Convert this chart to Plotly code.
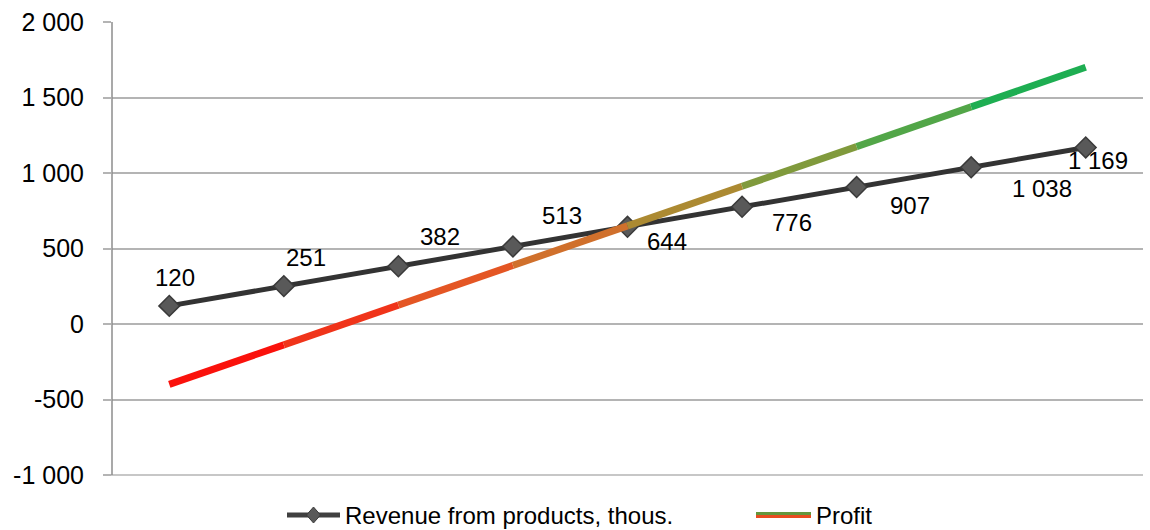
import plotly.graph_objects as go

# Periods (categories) along the horizontal axis
periods = [1, 2, 3, 4, 5, 6, 7, 8, 9]

# Revenue from products, thousands
revenue = [120, 251, 382, 513, 644, 776, 907, 1038, 1169]

# Profit, thousands
profit = [-400, -138, 125, 388, 650, 912, 1175, 1438, 1700]

# y-axis ticks
y_ticks = [-1000, -500, 0, 500, 1000, 1500, 2000]

# Series names
revenue_name = "Revenue from products, thous."
profit_name = "Profit"

# Colours for each profit segment, red -> orange -> green
seg_colors = [
    "rgb(250,18,12)", "rgb(240,52,26)", "rgb(228,86,36)", "rgb(208,112,44)",
    "rgb(172,138,50)", "rgb(128,154,60)", "rgb(82,166,72)", "rgb(30,174,82)",
]

# Pixel offsets of the revenue value labels relative to their points
label_shift = [(6, 28), (22, 29), (42, 30), (49, 31), (39, -15),
               (50, -16), (53, -18), (71, -21), (12, -13)]

FONT = "Liberation Sans, Arial, sans-serif"
GRID = "#B4B4B4"
W, H = 1150, 530
ML, MR, MT, MB = 112, 7, 22, 55
PW, PH = W - ML - MR, H - MT - MB


def fmt(v):
    return f"{v:,}".replace(",", " ")


def px(x):
    # horizontal pixel -> paper fraction
    return (x - ML) / PW


def py(y):
    # vertical pixel -> paper fraction
    return 1 - (y - MT) / PH


fig = go.Figure()

fig.add_trace(go.Scatter(
    x=periods, y=revenue, mode="lines+markers", name=revenue_name,
    line=dict(color="#333333", width=5),
    marker=dict(symbol="diamond", size=16, color="#595959",
                line=dict(color="#3a3a3a", width=1.5)),
    hoverinfo="skip", showlegend=False,
))

# Profit line drawn segment by segment to carry its colour gradient
for i in range(len(periods) - 1):
    fig.add_trace(go.Scatter(
        x=periods[i:i + 2], y=profit[i:i + 2], mode="lines", name=profit_name,
        line=dict(color=seg_colors[i], width=7),
        showlegend=False, hoverinfo="skip",
    ))

for xv, yv, (dx, dy) in zip(periods, revenue, label_shift):
    fig.add_annotation(
        x=xv, y=yv, text=fmt(yv), showarrow=False,
        xshift=dx, yshift=dy,
        font=dict(family=FONT, size=24, color="#000000"),
    )

# Legend below the plot
LEG_Y = 515
shapes = [
    # left axis line and bottom gridline
    dict(type="line", xref="paper", yref="paper", x0=0, x1=0, y0=0, y1=1,
         line=dict(color="#8c8c8c", width=1.5)),
    dict(type="line", xref="paper", yref="paper", x0=px(104), x1=1, y0=0, y1=0,
         line=dict(color=GRID, width=1.5), layer="below"),
    # revenue swatch: line with a diamond
    dict(type="line", xref="paper", yref="paper",
         x0=px(287), x1=px(340), y0=py(LEG_Y), y1=py(LEG_Y),
         line=dict(color="#404040", width=5)),
    dict(type="path", xref="paper", yref="paper",
         path=(f"M {px(313.5)} {py(LEG_Y - 8)} L {px(320.5)} {py(LEG_Y)} "
               f"L {px(313.5)} {py(LEG_Y + 8)} L {px(306.5)} {py(LEG_Y)} Z"),
         fillcolor="#595959", line=dict(color="#3a3a3a", width=1)),
    # profit swatch: green over orange-red
    dict(type="line", xref="paper", yref="paper",
         x0=px(756), x1=px(811), y0=py(LEG_Y - 1.5), y1=py(LEG_Y - 1.5),
         line=dict(color="rgb(100,150,60)", width=3)),
    dict(type="line", xref="paper", yref="paper",
         x0=px(756), x1=px(811), y0=py(LEG_Y + 1.5), y1=py(LEG_Y + 1.5),
         line=dict(color="rgb(232,76,32)", width=3)),
]

for x_left, name in ((343, revenue_name), (814, profit_name)):
    fig.add_annotation(
        xref="paper", yref="paper", x=px(x_left), y=py(LEG_Y),
        xanchor="left", yanchor="middle", text=name, showarrow=False,
        font=dict(family=FONT, size=24, color="#000000"),
    )

fig.update_layout(
    width=W, height=H,
    margin=dict(l=ML, r=MR, t=MT, b=MB),
    paper_bgcolor="white", plot_bgcolor="white",
    font=dict(family=FONT, size=24, color="#000000"),
    showlegend=False,
    xaxis=dict(
        range=[0.5, 9.5], showticklabels=False, showgrid=False,
        zeroline=False, showline=False, ticks="",
    ),
    yaxis=dict(
        range=[-1000, 2000], tickvals=y_ticks,
        ticktext=[fmt(v) for v in y_ticks],
        showgrid=True, gridcolor=GRID, gridwidth=1.5,
        zeroline=False, showline=False,
        ticks="outside", ticklen=8, tickcolor=GRID, tickwidth=1.5,
        ticklabelstandoff=14,
        tickfont=dict(family=FONT, size=25, color="#000000"),
    ),
    shapes=shapes,
)

fig.write_html("out.html")
